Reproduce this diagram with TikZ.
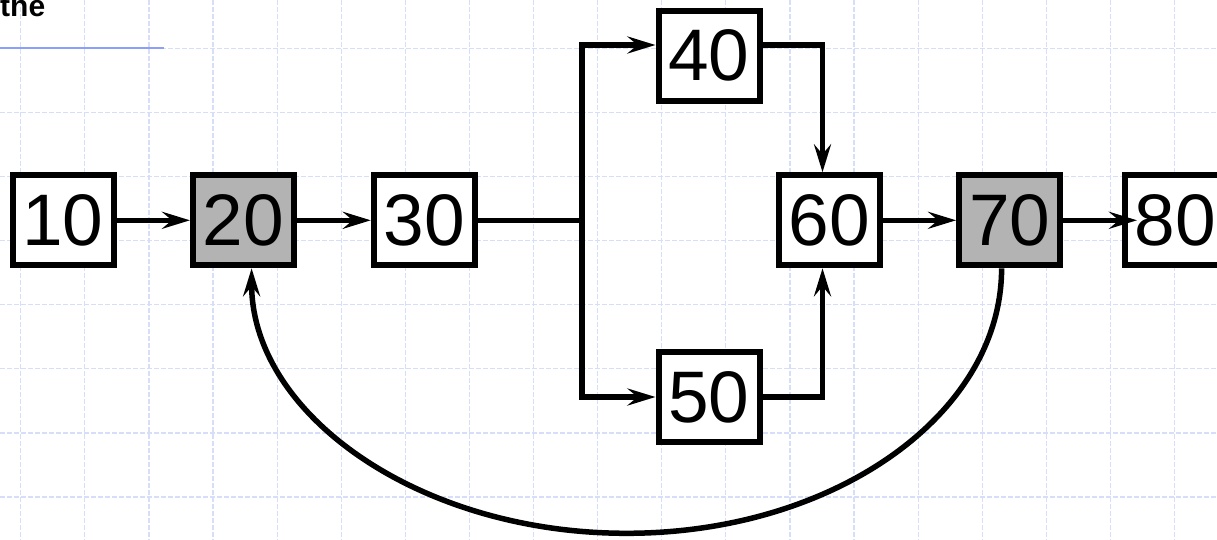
\documentclass[tikz,border=0pt]{standalone}
\usepackage{fontspec}
\setmainfont{Liberation Sans}
\usetikzlibrary{arrows.meta}
\definecolor{gridblue}{RGB}{214,222,250}
\definecolor{ruleblue}{RGB}{140,160,250}
\definecolor{boxgray}{RGB}{179,179,179}
\tikzset{
  blk/.style={draw=black, line width=6pt, fill=white, minimum width=101pt,
    minimum height=90pt, inner sep=0pt, font=\fontsize{73}{73}\selectfont},
  hot/.style={blk, fill=boxgray},
  wire/.style={line width=5.5pt},
  link/.style={wire, -{Stealth[length=28pt,width=17pt,inset=10pt]}},
  gridline/.style={gridblue, line width=1.2pt, dash pattern=on 5pt off 2pt},
}
\begin{document}
\begin{tikzpicture}[x=1pt,y=1pt]
\useasboundingbox (0,0) rectangle (1217,-540);
\clip (0,0) rectangle (1217,-540);
\fill[white] (0,0) rectangle (1217,-540);
% dashed background grid
\foreach \k in {0,...,18}
  \draw[gridline] ({20.7+64.1*\k},0) -- ({20.7+64.1*\k},-540);
\foreach \k in {1,...,8}
  \draw[gridline] (0,{15.8-64.1*\k}) -- (1217,{15.8-64.1*\k});
% heading fragment and its rule
\node[anchor=base west, inner sep=0pt, font=\fontsize{30}{30}\selectfont\bfseries] (hd) at (0,-16.5) {the};
\draw[ruleblue, line width=2pt] (0,-47.7) -- (163.5,-47.7);
% blocks
\node[blk] (n10) at (63,-220.3) {10};
\node[hot] (n20) at (243.5,-220.3) {20};
\node[blk] (n30) at (424.3,-220.3) {30};
\node[blk] (n40) at (709,-55.7) {40};
\node[blk] (n50) at (709,-397) {50};
\node[blk] (n60) at (829.5,-220.3) {60};
\node[hot] (n70) at (1009.6,-220.3) {70};
\node[blk] (n80) at (1175.5,-220.3) {80};
% connection points
\coordinate (split) at (582,-220.3);
\coordinate (in40) at ([yshift=10.7pt]n40.west);
\coordinate (out40) at ([yshift=10.7pt]n40.east);
\coordinate (in60a) at ([xshift=-7pt]n60.north);
\coordinate (in60b) at ([xshift=-7pt]n60.south);
\coordinate (in80) at ([xshift=15pt]n80.west);
\coordinate (loop0) at ([xshift=-8pt]n70.south);
% connectors
\draw[link] (n10) -- (n20);
\draw[link] (n20) -- (n30);
\draw[wire] (n30) -- (split);
\draw[link] (split) |- (in40);
\draw[link] (split) |- (n50.west);
\draw[link] (out40) -| (in60a);
\draw[link] (n50.east) -| (in60b);
\draw[link] (n60) -- (n70);
\draw[link] (n70) -- (in80);
\draw[link] (loop0) arc[start angle=0, end angle=-180, x radius=375pt, y radius=265pt];
\end{tikzpicture}
\end{document}
